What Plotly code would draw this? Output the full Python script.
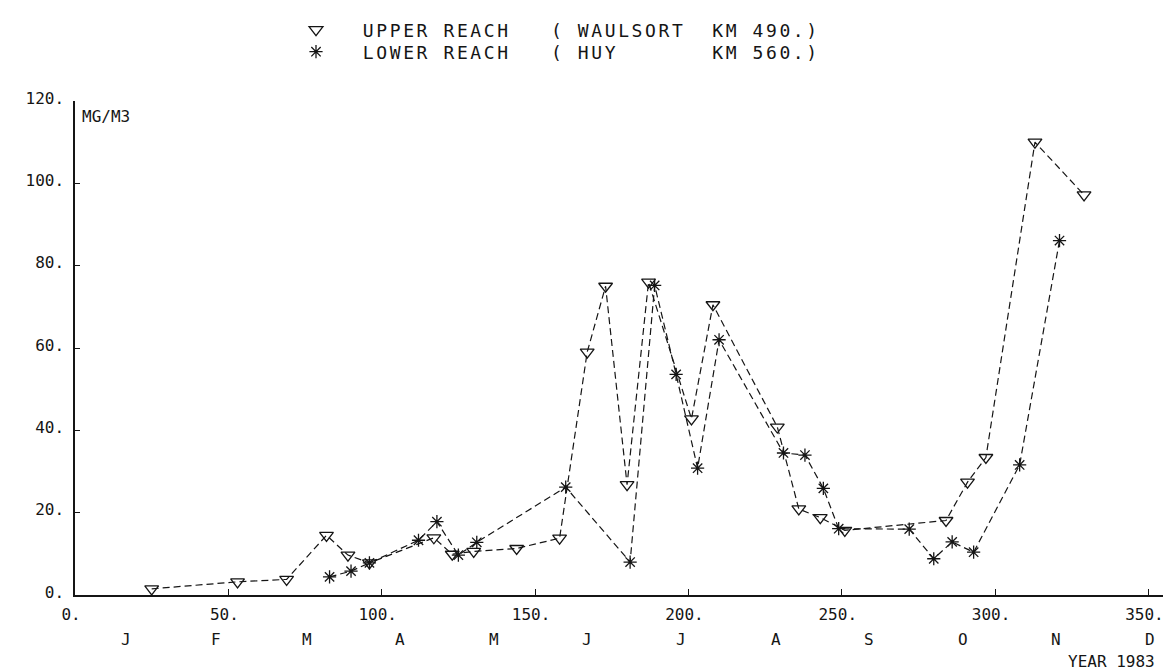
import plotly.graph_objects as go

# ---- data (day of year 1983, suspended matter mg/m3) ----
upper_days = [25, 53, 69, 82, 89, 96, 117, 123, 130, 144, 158, 167, 173, 180,
              187, 201, 208, 229, 236, 243, 251, 284, 291, 297, 313, 329]
upper_vals = [1.5, 3.2, 3.8, 14.5, 9.7, 7.8, 13.9, 9.9, 10.6, 11.3, 13.8, 59.0,
              75.0, 26.8, 76.0, 42.8, 70.5, 40.8, 20.9, 18.8, 15.7, 18.1, 27.4,
              33.4, 110.0, 97.2]

lower_days = [83, 90, 96, 112, 118, 125, 131, 160, 181, 189, 196, 203, 210, 231,
              238, 244, 249, 272, 280, 286, 293, 308, 321]
lower_vals = [4.4, 5.8, 7.8, 13.3, 17.8, 9.7, 12.8, 26.2, 8.0, 75.2, 53.6, 30.8,
              62.0, 34.5, 34.0, 25.9, 16.1, 16.0, 8.8, 12.9, 10.4, 31.6, 86.1]

x_ticks = [0, 50, 100, 150, 200, 250, 300, 350]
x_ticktext = ["0.", "50.", "100.", "150.", "200.", "250.", "300.", "350."]
y_ticks = [0, 20, 40, 60, 80, 100, 120]
y_ticktext = ["0.", "20.", "40.", "60.", "80.", "100.", "120."]

month_letters = ["J", "F", "M", "A", "M", "J", "J", "A", "S", "O", "N", "D"]
month_lengths = [31, 28, 31, 30, 31, 30, 31, 31, 30, 31, 30, 31]

upper_name = "UPPER REACH   ( WAULSORT  KM 490.)"
lower_name = "LOWER REACH   ( HUY       KM 560.)"
unit_label = "MG/M3"
year_label = "YEAR 1983"

FONT = "DejaVu Sans Mono"
INK = "#151515"

def spaced(s, ls):
    s = "\u00a0\u00a0" + s.replace(" ", "\u00a0")
    return '<span style="letter-spacing:%spx">%s</span>' % (ls, s)

fig = go.Figure()

line_style = dict(color=INK, width=1.2, dash="7px,4px")

fig.add_trace(go.Scatter(
    x=upper_days, y=upper_vals, mode="lines+markers", showlegend=False,
    line=line_style,
    marker=dict(symbol="triangle-down-open", size=12, color=INK,
                line=dict(color=INK, width=1.3)),
    cliponaxis=False))
fig.add_trace(go.Scatter(
    x=lower_days, y=lower_vals, mode="lines+markers", showlegend=False,
    line=line_style,
    marker=dict(symbol="asterisk-open", size=11, color=INK,
                line=dict(color=INK, width=1.3)),
    cliponaxis=False))

# legend-only entries (markers only, as in the original key)
fig.add_trace(go.Scatter(
    x=[None], y=[None], mode="markers", name=spaced(upper_name, 2.6),
    legend="legend",
    marker=dict(symbol="triangle-down-open", size=12, color=INK,
                line=dict(color=INK, width=1.3))))
fig.add_trace(go.Scatter(
    x=[None], y=[None], mode="markers", name=spaced(lower_name, 2.6),
    legend="legend2",
    marker=dict(symbol="asterisk-open", size=11, color=INK,
                line=dict(color=INK, width=1.3))))

# the page body adds an 8px offset, so the figure is 8px smaller than the window
W, H = 1163, 663
L, B, T = 67, 76, 93
PW, PH = W - L, H - B - T

legend_common = dict(xref="paper", yref="paper", xanchor="left",
                     yanchor="middle", bgcolor="rgba(0,0,0,0)",
                     font=dict(family=FONT, size=18, color=INK),
                     itemwidth=30, borderwidth=0)

fig.update_layout(
    width=W, height=H,
    margin=dict(l=L, r=0, t=T, b=B, pad=0, autoexpand=False),
    paper_bgcolor="white", plot_bgcolor="white",
    font=dict(family=FONT, size=16, color=INK),
    legend=dict(x=(288 - L) / PW, y=(H - B - 22) / PH, **legend_common),
    legend2=dict(x=(288 - L) / PW, y=(H - B - 44) / PH, **legend_common),
    xaxis=dict(range=[0, PW / 3.067], tickvals=x_ticks, ticktext=x_ticktext,
               showline=True, linecolor=INK, linewidth=1.5, ticks="inside",
               ticklen=6, tickwidth=1.2, tickcolor=INK, showgrid=False,
               zeroline=False, ticklabelstandoff=4, ticklabelshift=-4,
               tickfont=dict(family=FONT, size=16, color=INK)),
    yaxis=dict(range=[0, 120], tickvals=y_ticks, ticktext=y_ticktext,
               showline=True, linecolor=INK, linewidth=1.5, ticks="inside",
               ticklen=5, tickwidth=1.2, tickcolor=INK, showgrid=False,
               zeroline=False, ticklabelstandoff=6, ticklabelshift=-3,
               tickfont=dict(family=FONT, size=16, color=INK)),
)

# month letters at mid-month
start = 0
for letter, n in zip(month_letters, month_lengths):
    fig.add_annotation(x=start + n / 2 + 1, xref="x", y=0, yref="paper",
                       yshift=-44, text=letter, showarrow=False,
                       xanchor="center", yanchor="middle",
                       font=dict(family=FONT, size=16, color=INK))
    start += n

fig.add_annotation(x=352.8, xref="x", y=0, yref="paper", yshift=-66,
                   text=year_label, showarrow=False, xanchor="right",
                   yanchor="middle", font=dict(family=FONT, size=16, color=INK))
fig.add_annotation(x=0, xref="paper", xshift=5, y=120, yref="y", yshift=-15,
                   text=unit_label, showarrow=False, xanchor="left",
                   yanchor="middle", font=dict(family=FONT, size=16, color=INK))

fig.write_html("out.html")
